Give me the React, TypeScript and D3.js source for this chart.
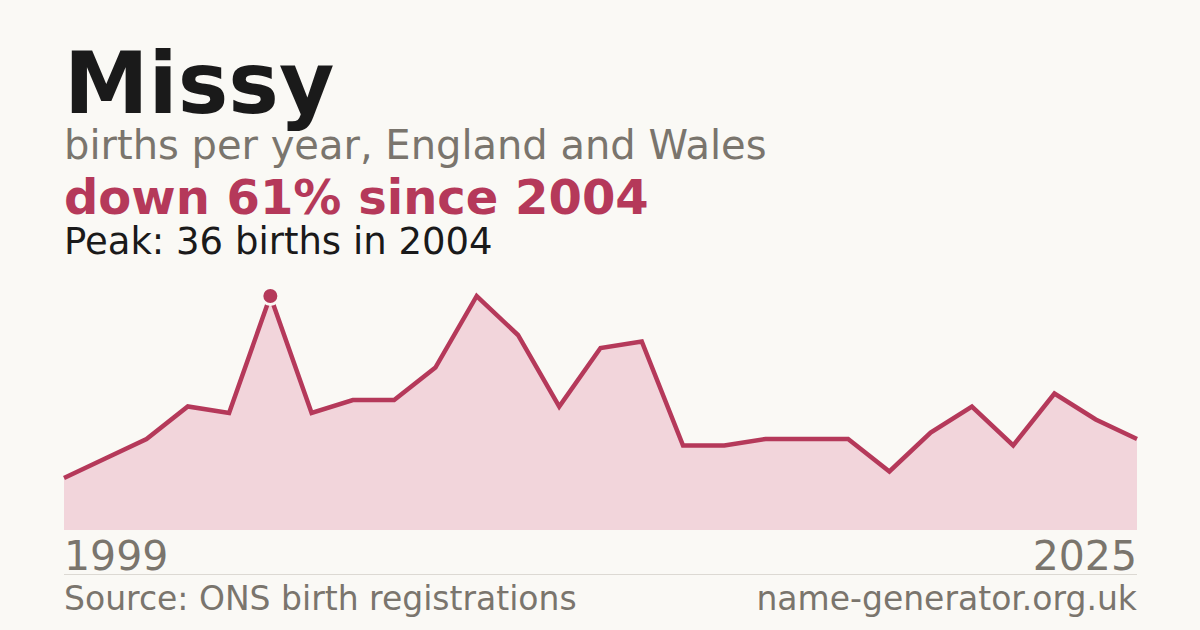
import React from "react";
import * as d3 from "d3";

const years: number[] = [1999,2000,2001,2002,2003,2004,2005,2006,2007,2008,2009,2010,2011,2012,2013,2014,2015,2016,2017,2018,2019,2020,2021,2022,2023,2024,2025];
const births: number[] = [8,11,14,19,18,36,18,20,20,25,36,30,19,28,29,13,13,14,14,14,9,15,19,13,21,17,14];

const title = "Missy";
const subtitle = "births per year, England and Wales";
const headline = "down 61% since 2004";
const peakText = "Peak: 36 births in 2004";
const sourceText = "Source: ONS birth registrations";
const siteText = "name-generator.org.uk";

const W = 1200, H = 630;
const FONT = "'DejaVu Sans', sans-serif";
const RED = "#b5395a";

export default function App() {
  const x = d3.scaleLinear().domain([years[0], years[years.length - 1]]).range([64, 1137]);
  const y = d3.scaleLinear().domain([0, d3.max(births) as number]).range([530, 296]);
  const pts = years.map((yr, i) => [yr, births[i]] as [number, number]);
  const area = d3.area<[number, number]>().x(d => x(d[0])).y0(y(0)).y1(d => y(d[1]))(pts) || "";
  const line = d3.line<[number, number]>().x(d => x(d[0])).y(d => y(d[1]))(pts) || "";
  const peakIdx = births.indexOf(d3.max(births) as number);

  return (
    <svg width={W} height={H} style={{ position: "absolute", left: 0, top: 0, display: "block" }} fontFamily={FONT}>
      <rect width={W} height={H} fill="#faf9f5" />
      <text x={64} y={113} fontSize={85} fontWeight="bold" fill="#1a1a1a">{title}</text>
      <text x={64} y={159} fontSize={40} fill="#7a756d">{subtitle}</text>
      <text x={64} y={214} fontSize={48} fontWeight="bold" fill={RED}>{headline}</text>
      <text x={64} y={254} fontSize={37} fill="#1a1a1a">{peakText}</text>
      <path d={area} fill="#f2d5db" />
      <path d={line} fill="none" stroke={RED} strokeWidth={4.5} strokeLinejoin="miter" />
      <circle cx={x(years[peakIdx])} cy={y(births[peakIdx])} r={8.5} fill={RED} stroke="#faf9f5" strokeWidth={3} />
      <text x={64} y={570} fontSize={41} fill="#7a756d">{years[0]}</text>
      <text x={1137} y={570} fontSize={41} fill="#7a756d" textAnchor="end">{years[years.length - 1]}</text>
      <line x1={64} x2={1137} y1={574.5} y2={574.5} stroke="#dcd9d3" strokeWidth={1} />
      <text x={64} y={610} fontSize={33} fill="#7a756d">{sourceText}</text>
      <text x={1137} y={610} fontSize={33} fill="#7a756d" textAnchor="end">{siteText}</text>
    </svg>
  );
}
